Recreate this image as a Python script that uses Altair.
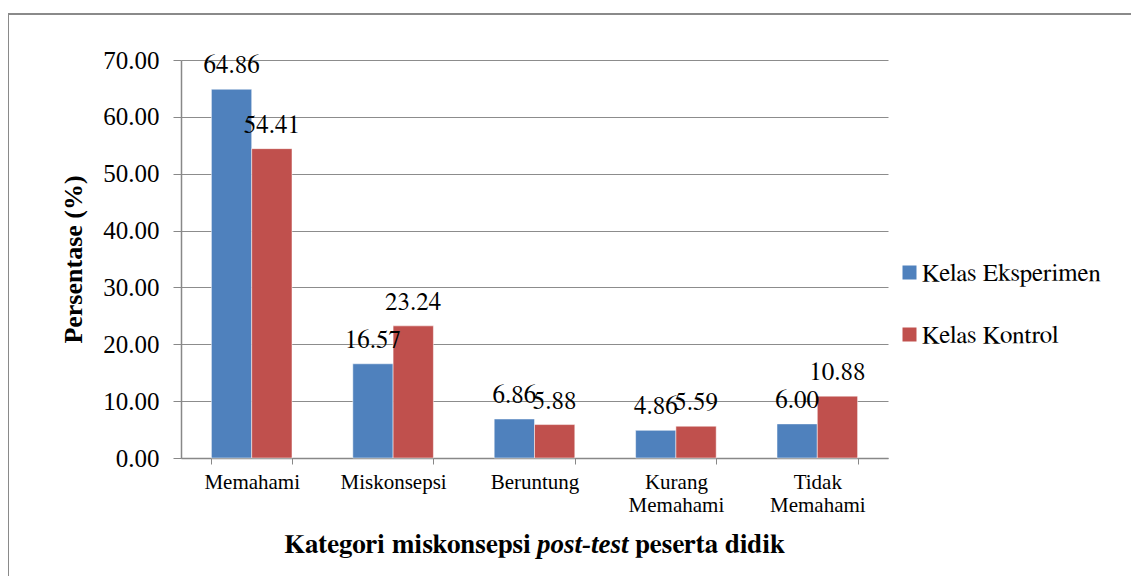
import altair as alt
import pandas as pd

categories = ["Memahami", "Miskonsepsi", "Beruntung", "Kurang Memahami", "Tidak Memahami"]
series = ["Kelas Eksperimen", "Kelas Kontrol"]
eksperimen = [64.86, 16.57, 6.86, 4.86, 6.00]
kontrol = [54.41, 23.24, 5.88, 5.59, 10.88]
y_ticks = [0, 10, 20, 30, 40, 50, 60, 70]
colors = ["#4F81BD", "#C0504D"]

rows = []
for c, a, b in zip(categories, eksperimen, kontrol):
    rows.append({"kategori": c, "kelas": series[0], "nilai": a})
    rows.append({"kategori": c, "kelas": series[1], "nilai": b})
df = pd.DataFrame(rows)

FONT = "Liberation Serif"      # works for axis text in this renderer
MFONT = "FreeSerif"            # falls back to the default Times-like serif for marks/legend
W, H = 707, 398

x_enc = alt.X(
    "kategori:N", sort=categories,
    scale=alt.Scale(paddingInner=0.43, paddingOuter=0.215),
    axis=alt.Axis(
        title=None, labelExpr="split(datum.label, ' ')", labelAngle=0,
        labelFontSize=21, labelFont=FONT, labelColor="#000", labelLineHeight=23,
        labelPadding=7, labelBaseline="top",
        tickBand="extent", tickSize=6, tickColor="#888", domainColor="#888",
        domainWidth=1.5, grid=False,
    ),
)
y_enc = alt.Y(
    "nilai:Q",
    scale=alt.Scale(domain=[0, 70], nice=False),
    axis=alt.Axis(
        values=y_ticks, format=".2f", title="Persentase (%)",
        titleFont=FONT, titleFontSize=26, titleFontWeight="bold", titleColor="#000",
        titlePadding=16,
        labelFont=FONT, labelFontSize=25, labelColor="#000", labelPadding=14,
        tickSize=8, tickColor="#888", domainColor="#888", domainWidth=1.5,
        grid=True, gridColor="#8c8c8c", gridWidth=1,
    ),
)
xo = alt.XOffset("kelas:N", sort=series)

bars = alt.Chart(df).mark_bar(stroke="white", strokeWidth=0.5).encode(
    x=x_enc, y=y_enc, xOffset=xo,
    color=alt.Color(
        "kelas:N", sort=series,
        scale=alt.Scale(domain=series, range=colors),
        legend=alt.Legend(
            title=None, orient="none", legendX=716, legendY=200, padding=0,
            symbolType="square", symbolSize=196, symbolStrokeWidth=0,
            labelFont=MFONT, labelFontSize=25, labelColor="#000", labelLimit=400,
            labelOffset=0, rowPadding=36,
        ),
    ),
)

labels = alt.Chart(df).mark_text(
    font=MFONT, fontSize=25, color="#000", baseline="alphabetic", dy=-16
).encode(
    x=alt.X("kategori:N", sort=categories), y="nilai:Q", xOffset=xo,
    text=alt.Text("nilai:Q", format=".2f"),
)

frame = alt.Chart(pd.DataFrame({"f": [0]})).mark_rect(
    fill=None, stroke="#8a8a8a", strokeWidth=2
).encode(
    x=alt.value(-173), x2=alt.value(2000), y=alt.value(-46), y2=alt.value(2000)
)

title_parts = pd.DataFrame({"t": ["Kategori miskonsepsi", "post-test", "peserta didik"]})
t1 = alt.Chart(title_parts.iloc[[0]]).mark_text(
    font=MFONT, fontSize=27, fontWeight="bold", align="right", baseline="alphabetic", color="#000"
).encode(text="t:N", x=alt.value(350), y=alt.value(493))
t2 = alt.Chart(title_parts.iloc[[1]]).mark_text(
    font=FONT, fontSize=27, fontWeight="bold", fontStyle="italic", align="left",
    baseline="alphabetic", color="#000"
).encode(text="t:N", x=alt.value(356), y=alt.value(493))
t3 = alt.Chart(title_parts.iloc[[2]]).mark_text(
    font=MFONT, fontSize=27, fontWeight="bold", align="left", baseline="alphabetic", color="#000"
).encode(text="t:N", x=alt.value(454), y=alt.value(493))

chart = alt.layer(frame, bars, labels, t1, t2, t3).properties(
    width=W, height=H,
    autosize=alt.AutoSizeParams(type="none"),
    padding={"left": 173, "top": 52, "right": 243, "bottom": 118},
).configure_view(stroke=None)

chart.save("out.html", embed_options={"renderer": "svg", "actions": False})
